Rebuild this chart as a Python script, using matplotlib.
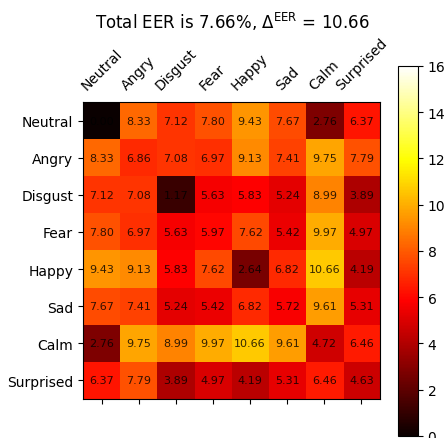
import numpy as np
import matplotlib
matplotlib.use("Agg")
import matplotlib.pyplot as plt

labels = ["Neutral", "Angry", "Disgust", "Fear", "Happy", "Sad", "Calm", "Surprised"]
row_neutral   = [0.00, 8.33, 7.12, 7.80, 9.43, 7.67, 2.76, 6.37]
row_angry     = [8.33, 6.86, 7.08, 6.97, 9.13, 7.41, 9.75, 7.79]
row_disgust   = [7.12, 7.08, 1.17, 5.63, 5.83, 5.24, 8.99, 3.89]
row_fear      = [7.80, 6.97, 5.63, 5.97, 7.62, 5.42, 9.97, 4.97]
row_happy     = [9.43, 9.13, 5.83, 7.62, 2.64, 6.82, 10.66, 4.19]
row_sad       = [7.67, 7.41, 5.24, 5.42, 6.82, 5.72, 9.61, 5.31]
row_calm      = [2.76, 9.75, 8.99, 9.97, 10.66, 9.61, 4.72, 6.46]
row_surprised = [6.37, 7.79, 3.89, 4.97, 4.19, 5.31, 6.46, 4.63]
total_eer = 7.66
delta_eer = 10.66
vmin, vmax = 0, 16

data = np.array([row_neutral, row_angry, row_disgust, row_fear,
                 row_happy, row_sad, row_calm, row_surprised])

fig = plt.figure(figsize=(4.46, 4.39), dpi=100)
ax = fig.add_axes([0.186, 0.0888, 0.666, 0.6765])
im = ax.imshow(data, cmap="hot", vmin=vmin, vmax=vmax, aspect="auto")

ax.set_xticks(range(len(labels)))
ax.set_yticks(range(len(labels)))
ax.set_xticklabels(labels, rotation=45, ha="center", fontsize=10)
ax.set_yticklabels(labels, fontsize=10)
ax.xaxis.tick_top()
ax.tick_params(axis="x", bottom=True, top=False, labelbottom=False, labeltop=True)

for i in range(data.shape[0]):
    for j in range(data.shape[1]):
        ax.text(j, i, f"{data[i, j]:.2f}", ha="center", va="center",
                fontsize=8, color="black", alpha=0.8)

cax = fig.add_axes([0.892, 0.0046, 0.045, 0.843])
cb = fig.colorbar(im, cax=cax)
cb.set_ticks([0, 2, 4, 6, 8, 10, 12, 14, 16])
cb.ax.tick_params(labelsize=10)

fig.text(0.52, 0.95, f"Total EER is {total_eer:.2f}%, " + r"$\Delta^{\mathrm{EER}}$" + f" = {delta_eer:.2f}",
         ha="center", va="center", fontsize=12)

fig.savefig("out.png", dpi=100)
